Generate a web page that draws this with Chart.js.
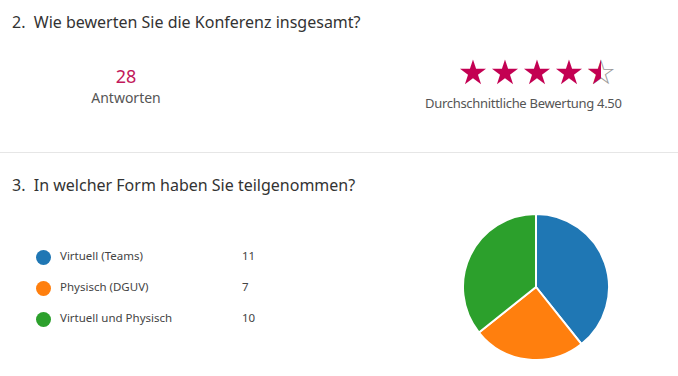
<!DOCTYPE html>
<html>
<head>
<meta charset="utf-8">
<script src="https://cdn.jsdelivr.net/npm/chart.js@4.4.0/dist/chart.umd.min.js"></script>
<style>
  body { margin: 0; width: 678px; height: 376px; background: #fff; font-family: "Noto Sans", "Open Sans", sans-serif; color: #333; position: relative; overflow: hidden; }
  .abs { position: absolute; white-space: nowrap; }
  .q { font-size: 16px; color: #333; }
  .count { font-size: 18px; color: #c2185b; }
  .sub { font-size: 14px; color: #555; }
  .sep { position: absolute; left: 0; top: 152px; width: 678px; height: 1px; background: #e6e6e6; }
  .leg { font-size: 11.5px; color: #444; }
  .dot { position: absolute; width: 15px; height: 15px; border-radius: 50%; }
  .star { position: absolute; top: 0; width: 32px; height: 36px; text-align: center; font-family: "DejaVu Sans", sans-serif; font-size: 34px; line-height: 36px; }
  .star.bg { color: #9a9a9a; }
  .star.fg { color: transparent; -webkit-background-clip: text; background-clip: text; }
  #pieBox { position: absolute; left: 462px; top: 213px; width: 148px; height: 148px; }
</style>
</head>
<body>
<div class="abs q" style="left:12px; top:11px;">2.&nbsp; Wie bewerten Sie die Konferenz insgesamt?</div>
<div class="abs count" id="total" style="left:126px; top:64px; transform:translateX(-50%);"></div>
<div class="abs sub" style="left:126px; top:88px; transform:translateX(-50%);">Antworten</div>
<div class="abs" id="stars" style="left:457px; top:54px; width:165px; height:36px;"></div>
<div class="abs sub" id="avg" style="left:425px; top:94px; font-size:13px; letter-spacing:-0.3px;"></div>
<div class="sep"></div>
<div class="abs q" style="left:12px; top:174px;">3.&nbsp; In welcher Form haben Sie teilgenommen?</div>
<div id="legend"></div>
<div id="pieBox"><canvas id="pie"></canvas></div>

<script>
var ratingCount = 28;
var ratingAverage = 4.5;

var categories = ['Virtuell (Teams)', 'Physisch (DGUV)', 'Virtuell und Physisch'];
var counts = [11, 7, 10];
var colors = ['#1f77b4', '#ff7f0e', '#2ca02c'];

document.getElementById('total').textContent = ratingCount;
document.getElementById('avg').textContent = 'Durchschnittliche Bewertung ' + ratingAverage.toFixed(2);

// stars: grey outline underneath a partly filled one where the rating ends
var starsHtml = '';
for (var s = 0; s < 5; s++) {
    var fill = Math.max(0, Math.min(1, ratingAverage - s));
    var left = s * 32;
    if (fill < 1) {
        starsHtml += '<span class="star bg" style="left:' + left + 'px;">&#9734;</span>';
    }
    if (fill > 0) {
        var p = (fill * 100) + '%';
        starsHtml += '<span class="star fg" style="left:' + left + 'px; background-image:linear-gradient(to right, #c30052 ' + p + ', transparent ' + p + ');">&#9733;</span>';
    }
}
document.getElementById('stars').innerHTML = starsHtml;

// legend rows
var legend = document.getElementById('legend');
for (var i = 0; i < categories.length; i++) {
    var y = 257 + i * 31;
    legend.innerHTML +=
        '<div class="dot" style="left:36px; top:' + (y - 7) + 'px; background:' + colors[i] + ';"></div>' +
        '<div class="abs leg" style="left:60px; top:' + (y - 9) + 'px;">' + categories[i] + '</div>' +
        '<div class="abs leg" style="left:242px; top:' + (y - 9) + 'px;">' + counts[i] + '</div>';
}

var ctx = document.getElementById('pie').getContext('2d');
var myChart = new Chart(ctx, {
    type: 'pie',
    data: {
        labels: categories,
        datasets: [{
            data: counts,
            backgroundColor: colors,
            borderColor: '#ffffff',
            borderWidth: 2
        }]
    },
    options: {
        responsive: true,
        maintainAspectRatio: false,
        animation: false,
        plugins: {
            legend: { display: false },
            tooltip: { enabled: false }
        }
    }
});
</script>
</body>
</html>
